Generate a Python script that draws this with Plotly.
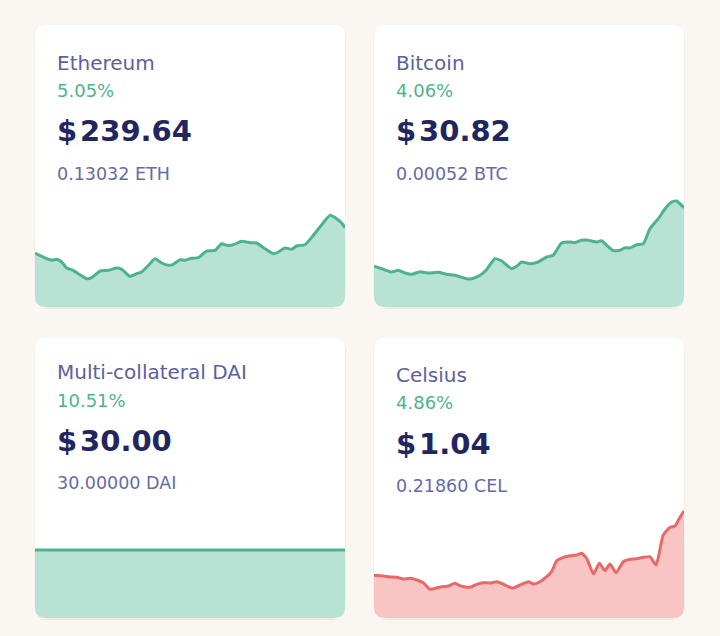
import plotly.graph_objects as go

W, H = 720, 636

# ---------------- data ----------------
names = ["Ethereum", "Bitcoin", "Multi-collateral DAI", "Celsius"]
changes = ["5.05%", "4.06%", "10.51%", "4.86%"]
prices = ["$239.64", "$30.82", "$30.00", "$1.04"]
holdings = ["0.13032 ETH", "0.00052 BTC", "30.00000 DAI", "0.21860 CEL"]

eth_x = [0, 3.8, 5.4, 7.0, 8.6, 10.2, 11.8, 14.0, 16.7, 18.3, 21.0, 23.7, 26.3, 28.0,
         30.6, 32.8, 34.4, 36.6, 38.7, 40.9, 43.0, 44.6, 46.8, 48.4, 50.5, 52.7, 55.4,
         58.1, 60.2, 61.8, 64.0, 66.7, 69.4, 71.5, 74.2, 76.9, 78.5, 80.6, 82.8, 84.4,
         87.1, 89.8, 92.5, 95.2, 97.3, 98.9, 100]
eth_y = [54.0, 48.3, 46.7, 47.7, 45.0, 39.0, 37.3, 33.3, 28.3, 29.3, 36.0, 36.7, 39.0,
         37.7, 30.7, 33.3, 35.0, 41.7, 48.3, 44.0, 41.7, 42.7, 47.3, 46.7, 48.7, 49.3,
         56.0, 56.7, 63.3, 61.7, 62.3, 65.7, 64.3, 64.0, 58.3, 53.3, 55.0, 59.0, 57.7,
         61.0, 62.3, 71.7, 82.3, 91.7, 88.3, 84.0, 79.3]

btc_x = [0, 2.5, 5.7, 7.8, 10.0, 12.2, 14.8, 17.5, 20.8, 23.4, 26.1, 29.9, 31.5, 34.2,
         36.3, 39.0, 41.2, 44.4, 46.0, 47.6, 50.3, 53.0, 55.7, 57.8, 60.5, 63.2, 64.8,
         67.0, 69.1, 71.8, 73.4, 75.1, 77.2, 79.4, 81.0, 82.6, 84.7, 86.9, 89.0, 91.7,
         93.9, 96.0, 97.6, 100]
btc_y = [40.7, 38.3, 35.0, 36.7, 34.0, 32.7, 35.3, 34.0, 34.7, 32.7, 31.7, 28.3, 28.3,
         31.7, 37.3, 48.3, 46.0, 38.3, 40.7, 45.0, 43.3, 45.0, 50.0, 51.7, 64.0, 65.0,
         64.3, 66.7, 66.7, 65.0, 66.3, 61.7, 56.3, 56.7, 59.3, 59.0, 62.3, 63.3, 78.3,
         88.3, 98.3, 105.0, 106.0, 99.3]

dai_x = [0, 25, 50, 75, 100]
dai_y = [68, 68, 68, 68, 68]

cel_x = [0, 3.0, 5.2, 7.3, 9.5, 11.6, 13.8, 15.9, 18.1, 20.2, 21.8, 24.0, 26.1, 27.7,
         29.9, 31.5, 33.1, 35.3, 37.4, 39.6, 41.2, 43.3, 44.9, 47.1, 49.8, 51.4, 53.0,
         55.7, 57.3, 58.9, 61.1, 63.2, 65.4, 67.0, 68.6, 70.8, 72.7, 74.5, 76.1, 78.1,
         80.4, 82.6, 84.7, 86.9, 89.0, 91.0, 93.3, 95.5, 97.1, 98.2, 100]
cel_y = [42.7, 42.0, 41.0, 40.7, 39.0, 39.7, 38.0, 35.3, 28.7, 30.0, 31.3, 32.0, 34.7,
         32.3, 30.7, 31.3, 33.7, 35.3, 35.0, 36.3, 34.7, 31.3, 30.0, 33.0, 36.3, 34.0,
         35.3, 41.3, 46.3, 57.3, 60.7, 62.3, 63.0, 64.7, 59.7, 44.0, 54.7, 47.3, 54.0,
         45.3, 56.3, 58.7, 59.3, 60.7, 61.3, 53.0, 83.0, 90.7, 92.0, 98.0, 107.3]

# ---------------- style ----------------
BG = "#faf6f1"
CARD = "#ffffff"
SHADOW = "#efe8de"
TITLE_C = "#5c60a0"
PCT_C = "#4eb48b"
PRICE_C = "#1f2660"
HOLD_C = "#666aa8"
GREEN_L, GREEN_F = "#4db38a", "#b7e2d4"
RED_L, RED_F = "#e86a68", "#f8c5c4"
FONT = "DejaVu Sans"

# card boxes in pixels: x0, y0(top), x1, y1(bottom)
cards = [(35, 25, 345, 307), (374, 25, 684, 307), (35, 338, 345, 618), (374, 338, 684, 618)]
series = [(eth_x, eth_y, GREEN_L, GREEN_F), (btc_x, btc_y, GREEN_L, GREEN_F),
          (dai_x, dai_y, GREEN_L, GREEN_F), (cel_x, cel_y, RED_L, RED_F)]
# text centres (x, title y, pct y, price y, holding y) in pixels
text_pos = [(55, 63, 90.5, 131, 173.5), (394, 63, 90.5, 131, 173.5),
            (55, 372.5, 400, 440.5, 483.3), (394, 375, 402.7, 443.8, 485.5)]
CHART_H = 130
R = 11


def px(x):
    return x / W


def py(y):
    return 1 - y / H


def rrect(x0, y0, x1, y1, r):
    pts = [
        f"M {px(x0 + r)},{py(y0)}",
        f"L {px(x1 - r)},{py(y0)}",
        f"Q {px(x1)},{py(y0)} {px(x1)},{py(y0 + r)}",
        f"L {px(x1)},{py(y1 - r)}",
        f"Q {px(x1)},{py(y1)} {px(x1 - r)},{py(y1)}",
        f"L {px(x0 + r)},{py(y1)}",
        f"Q {px(x0)},{py(y1)} {px(x0)},{py(y1 - r)}",
        f"L {px(x0)},{py(y0 + r)}",
        f"Q {px(x0)},{py(y0)} {px(x0 + r)},{py(y0)}",
        "Z",
    ]
    return " ".join(pts)


fig = go.Figure()
shapes = []
annotations = []
layout_axes = {}

for i, ((x0, y0, x1, y1), (sx, sy, lc, fc), tp) in enumerate(zip(cards, series, text_pos)):
    # shadow + card
    shapes.append(dict(type="path", path=rrect(x0 - 0.5, y0 + 0.5, x1 + 0.5, y1 + 2, R + 1),
                       xref="paper", yref="paper", fillcolor=SHADOW, line_width=0, layer="below"))
    shapes.append(dict(type="path", path=rrect(x0, y0, x1, y1, R),
                       xref="paper", yref="paper", fillcolor=CARD, line_width=0, layer="below"))
    # corner masks over the filled area (bottom-left, bottom-right)
    for (cx, sgn) in ((x0, 1), (x1, -1)):
        path = (f"M {px(cx)},{py(y1 - R)} Q {px(cx)},{py(y1)} {px(cx + sgn * R)},{py(y1)} "
                f"L {px(cx + sgn * R)},{py(y1 + 1)} L {px(cx - sgn * 2)},{py(y1 + 1)} "
                f"L {px(cx - sgn * 2)},{py(y1 - R)} Z")
        shapes.append(dict(type="path", path=path, xref="paper", yref="paper",
                           fillcolor=BG, line_width=0, layer="above"))

    k = "" if i == 0 else str(i + 1)
    layout_axes[f"xaxis{k}"] = dict(domain=[px(x0), px(x1)], range=[0, 100], visible=False,
                                    fixedrange=True, anchor=f"y{k}")
    layout_axes[f"yaxis{k}"] = dict(domain=[py(y1), py(y1 - CHART_H)], range=[0, CHART_H],
                                    visible=False, fixedrange=True, anchor=f"x{k}")
    fig.add_trace(go.Scatter(x=sx, y=sy, mode="lines", fill="tozeroy", fillcolor=fc,
                             line=dict(color=lc, width=3, shape="spline", smoothing=0.5),
                             xaxis=f"x{k}", yaxis=f"y{k}", hoverinfo="skip", showlegend=False))

    tx, ty_t, ty_p, ty_pr, ty_h = tp
    annotations += [
        dict(text=names[i], x=px(tx), y=py(ty_t), font=dict(size=20, color=TITLE_C, family=FONT)),
        dict(text=changes[i], x=px(tx), y=py(ty_p), font=dict(size=18, color=PCT_C, family=FONT)),
        dict(text=prices[i].replace("$", "$\u200a"), x=px(tx), y=py(ty_pr),
             font=dict(size=29, color=PRICE_C, family=FONT, weight="bold")),
        dict(text=holdings[i], x=px(tx), y=py(ty_h), font=dict(size=17.5, color=HOLD_C, family=FONT)),
    ]

for a in annotations:
    a.update(xref="paper", yref="paper", xanchor="left", yanchor="middle", showarrow=False)

fig.update_layout(width=W, height=H, margin=dict(l=0, r=0, t=0, b=0),
                  paper_bgcolor=BG, plot_bgcolor="rgba(0,0,0,0)",
                  shapes=shapes, annotations=annotations, **layout_axes)

fig.write_html("out.html", config={"displayModeBar": False},
               post_script="document.body.style.margin='0px';document.body.style.background='" + BG + "';")
